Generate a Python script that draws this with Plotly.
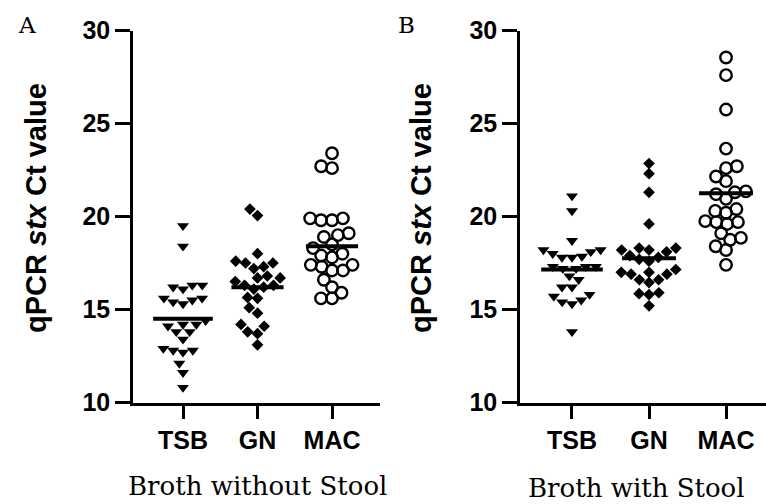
import math
import plotly.graph_objects as go

# ---------------- data ----------------
categories = ["TSB", "GN", "MAC"]
y_ticks = [10, 15, 20, 25, 30]

tsb_without = [19.5, 18.4, 16.3, 16.3, 16.1, 16.2, 15.5, 15.6, 15.6, 15.4, 15.3, 14.2, 14.1,
               14.2, 14.4, 13.8, 13.8, 13.4, 12.7, 12.9, 12.8, 12.8, 12.1, 11.6, 10.8]
gn_without = [20.4, 20.05, 18.0, 17.6, 17.5, 17.5, 17.3, 17.2, 16.8, 16.7, 16.7, 16.5, 16.3,
              16.3, 16.2, 16.1, 15.65, 15.6, 15.1, 14.8, 14.2, 14.1, 13.8, 13.7, 13.1]
mac_without = [23.4, 22.7, 22.6, 19.9, 19.8, 19.8, 19.9, 18.9, 19.1, 19.0, 18.5, 18.3, 18.0,
               17.9, 17.8, 17.4, 17.3, 17.1, 17.1, 17.4, 16.6, 16.2, 15.9, 15.6, 15.6]
center_without = [14.5, 16.2, 18.4]

tsb_with = [21.1, 20.3, 18.7, 18.1, 18.2, 18.2, 17.8, 17.8, 17.85, 18.0, 17.3, 17.3, 17.2,
            17.3, 17.2, 16.8, 16.6, 16.2, 16.2, 15.8, 15.7, 15.4, 15.3, 15.5, 13.8]
gn_with = [22.85, 22.3, 21.3, 19.6, 18.3, 18.1, 18.2, 18.2, 18.3, 17.9, 17.8, 17.7, 17.6,
           17.15, 17.0, 17.0, 16.9, 16.9, 16.6, 16.6, 16.45, 15.9, 15.8, 15.85, 15.2]
mac_with = [28.55, 27.6, 25.75, 23.65, 22.7, 22.6, 22.15, 21.9, 21.35, 21.3, 21.2, 20.95, 20.4,
            20.3, 20.2, 19.75, 19.7, 19.7, 19.6, 19.1, 18.85, 18.75, 18.4, 18.2, 17.4]
center_with = [17.15, 17.75, 21.25]

panel_letters = ["A", "B"]
panel_captions = ["Broth without Stool", "Broth with Stool"]
y_title = "<b>qPCR <i>stx</i> Ct value</b>"

# ---------------- layout constants ----------------
W, H = 766, 504
y_dom = [(H - 402.5) / H, (H - 30.5) / H]
x_dom_a = [133 / W, 380 / W]
x_dom_b = [520 / W, 1.0]
x_rng_a = [-0.671, 2.644]
x_rng_b = [-0.675, 2.519]
y_rng = [10, 30]

SANS = "Liberation Sans, Arial, sans-serif"
SERIF = "DejaVu Serif, serif"


def swarm(values, diam_px, px_per_y, px_per_x):
    """Simple beeswarm: place each point as near the centre as possible without overlap."""
    order = sorted(range(len(values)), key=lambda i: values[i])
    placed = []
    offs = [0.0] * len(values)
    for i in order:
        y = values[i] * px_per_y
        cands = [0.0]
        for (px, py) in placed:
            dy = abs(py - y)
            if dy < diam_px:
                dx = math.sqrt(diam_px ** 2 - dy ** 2)
                cands += [px + dx, px - dx]
        ok = [c for c in cands
              if all((c - px) ** 2 + (y - py) ** 2 >= diam_px ** 2 - 1e-6 for px, py in placed)]
        best = min(ok, key=lambda c: (abs(c), c))
        placed.append((best, y))
        offs[i] = best / px_per_x
    return offs


px_per_y = (y_dom[1] - y_dom[0]) * H / (y_rng[1] - y_rng[0])

fig = go.Figure()

styles = [
    dict(symbol="triangle-down", size=10.5, color="black", line=dict(width=0)),
    dict(symbol="diamond", size=9, color="black", line=dict(width=0)),
    dict(symbol="circle-open", size=11.5, color="black", line=dict(width=2.4, color="black")),
]
diams = [10, 10, 11]

panels = [
    ("x", "y", x_dom_a, x_rng_a, [tsb_without, gn_without, mac_without], center_without),
    ("x2", "y2", x_dom_b, x_rng_b, [tsb_with, gn_with, mac_with], center_with),
]

for xa, ya, xdom, xrng, groups, centers in panels:
    px_per_x = (xdom[1] - xdom[0]) * W / (xrng[1] - xrng[0])
    for gi, vals in enumerate(groups):
        offs = swarm(vals, diams[gi], px_per_y, px_per_x)
        fig.add_trace(go.Scatter(
            x=[gi + o for o in offs], y=vals, mode="markers",
            marker=styles[gi], xaxis=xa, yaxis=ya, showlegend=False, cliponaxis=False,
            hoverinfo="y"))
    for gi, c in enumerate(centers):
        hw = 0.40 if gi == 0 else 0.35
        fig.add_trace(go.Scatter(
            x=[gi - hw, gi + hw], y=[c, c], mode="lines",
            line=dict(color="black", width=4), xaxis=xa, yaxis=ya,
            showlegend=False, hoverinfo="skip"))

axis_common = dict(showgrid=False, zeroline=False, showline=True, linecolor="black",
                   linewidth=2.5, ticks="outside", tickcolor="black", tickwidth=2.5,
                   mirror=False, automargin=False)
tfont = dict(family=SANS, size=25, color="black", weight="bold")

fig.update_layout(
    width=W, height=H, margin=dict(l=0, r=0, t=0, b=0, pad=0, autoexpand=False),
    paper_bgcolor="white", plot_bgcolor="white",
    xaxis=dict(domain=x_dom_a, range=x_rng_a, tickvals=[0, 1, 2], ticktext=categories,
               ticklen=14, anchor="y", tickfont=tfont, **axis_common),
    yaxis=dict(domain=y_dom, range=y_rng, tickvals=y_ticks, ticklen=15, anchor="x",
               tickfont=tfont, **axis_common),
    xaxis2=dict(domain=x_dom_b, range=x_rng_b, tickvals=[0, 1, 2], ticktext=categories,
                ticklen=14, anchor="y2", tickfont=tfont, **axis_common),
    yaxis2=dict(domain=y_dom, range=y_rng, tickvals=y_ticks, ticklen=15, anchor="x2",
                tickfont=tfont, **axis_common),
)

annos = []
for i, (xt, xl, xc, yc) in enumerate([(36, 27, 257, 486), (421, 406, 526, 488)]):
    annos.append(dict(text=y_title, x=xt / W, y=(H - 208) / H, xref="paper", yref="paper",
                      textangle=-90, showarrow=False, xanchor="center", yanchor="middle",
                      font=dict(family=SANS, size=29, color="black")))
    annos.append(dict(text=panel_letters[i], x=xl / W, y=(H - 25) / H, xref="paper", yref="paper",
                      showarrow=False, xanchor="center", yanchor="middle",
                      font=dict(family=SERIF, size=23, color="black")))
    annos.append(dict(text=panel_captions[i], x=xc / W, y=(H - yc) / H, xref="paper", yref="paper",
                      showarrow=False, xanchor="center" if i == 0 else "left", yanchor="middle",
                      font=dict(family=SERIF, size=26, color="black")))
fig.update_layout(annotations=annos)

fig.write_html("out.html")
